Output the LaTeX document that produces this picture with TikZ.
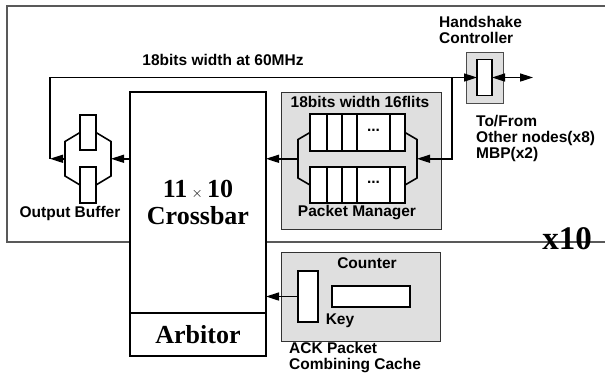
\documentclass[tikz,border=0pt]{standalone}
\usepackage{fontspec}
\setmainfont{Liberation Serif}
\setsansfont{Liberation Sans}
\usepackage{tikz}
\usetikzlibrary{arrows.meta, positioning, calc}

\begin{document}
\begin{tikzpicture}[
  x=1pt, y=-1pt,
  font=\sffamily\bfseries\fontsize{15.5}{16}\selectfont,
  >={Triangle[length=13pt, width=8pt]},
  node distance=0pt,
  frame/.style={draw=black!65, line width=1.1pt},
  bigbox/.style={draw, line width=1.8pt, fill=white, inner sep=0pt, outer sep=0pt, align=center, font=\rmfamily\bfseries\fontsize{26}{27}\selectfont},
  grey/.style={draw=black!80, line width=1pt, fill=gray!25, inner sep=0pt, outer sep=0pt},
  cell/.style={draw, line width=1.6pt, fill=white, inner sep=0pt, outer sep=0pt, minimum width=15pt, minimum height=37pt},
  slot/.style={draw, line width=1.6pt, fill=white, inner sep=0pt, outer sep=0pt},
  wire/.style={line width=1.6pt},
  arrow/.style={->, line width=1.6pt},
  lbl/.style={inner sep=0pt, align=left}
]
\useasboundingbox (0,0) rectangle (605,376);

% outer frame, one of ten copies
\draw[frame] (605,6) -- (7,6) -- (7,242) -- (605,242);
\node[inner sep=0pt, font=\rmfamily\bfseries\fontsize{33}{33}\selectfont] (copies) at (567,238.5) {x10};

% crossbar and arbitor
\node[bigbox, minimum width=136pt, minimum height=221pt] (xbar) at (198,202.5) {11\,{\fontsize{14}{14}\selectfont$\times$}\,10\\Crossbar};
\node[bigbox, minimum width=136pt, minimum height=43pt, below=of xbar] (arb) {Arbitor};

% output buffer
\node[slot, minimum width=16pt, minimum height=35pt] (obtop) at (88,132.5) {};
\node[slot, minimum width=16pt, minimum height=36pt] (obbot) at (88,185) {};
\draw[wire] (obtop.west) -- ++(-15,9) -- ($(obbot.west)+(-15,-9)$) -- (obbot.west);
\draw[wire] (obtop.east) -- ++(15,9) -- ($(obbot.east)+(15,-9)$) -- (obbot.east);
\coordinate (obL) at ($(obtop.west)!0.5!(obbot.west)+(-15,0)$);
\coordinate (obR) at ($(obtop.east)!0.5!(obbot.east)+(15,0)$);
\node[lbl] (oblabel) at (70,213) {Output Buffer};

% handshake controller
\node[grey, draw=black!70, minimum width=37pt, minimum height=51pt] (hsk) at (484.5,77.5) {};
\node[slot, minimum width=15pt, minimum height=36pt] (hskin) at (hsk.center) {};
\node[lbl, anchor=west] (hsklabel) at (439,29.5) {Handshake\\Controller};
\node[lbl, anchor=west] (nodes) at (476,138) {To/From\\Other nodes(x8)\\MBP(x2)};
\coordinate (ext) at (533,77.5);
\path (hskin.west) -- ++(-25,0) coordinate (jn);

% packet manager
\node[grey, minimum width=160pt, minimum height=137pt] (pm) at (361,160.5) {};
\node[lbl] (pmtitle) at (360,102) {18bits width 16flits};
\node[cell, minimum width=17pt] (qa1) at (318.5,132.5) {};
\node[cell, right=of qa1] (qa2) {};
\node[cell, right=of qa2] (qa3) {};
\node[cell, minimum width=33pt, right=of qa3] (qa4) {\raisebox{5pt}{...}};
\node[cell, right=of qa4] (qa5) {};
\node[cell, minimum width=17pt, minimum height=36pt] (qb1) at (318.5,185) {};
\node[cell, minimum height=36pt, right=of qb1] (qb2) {};
\node[cell, minimum height=36pt, right=of qb2] (qb3) {};
\node[cell, minimum width=33pt, minimum height=36pt, right=of qb3] (qb4) {\raisebox{5pt}{...}};
\node[cell, minimum height=36pt, right=of qb4] (qb5) {};
\draw[wire] (qa1.west) -- ++(-12,7) -- ($(qb1.west)+(-12,-7)$) -- (qb1.west);
\draw[wire] (qa5.east) -- ++(12,7) -- ($(qb5.east)+(12,-7)$) -- (qb5.east);
\coordinate (pmL) at ($(qa1.west)!0.5!(qb1.west)+(-12,0)$);
\coordinate (pmR) at ($(qa5.east)!0.5!(qb5.east)+(12,0)$);
\node[lbl] (pmlabel) at (357,213) {Packet Manager};

% ack packet combining cache
\node[grey, minimum width=159pt, minimum height=89pt] (ack) at (360.5,296.5) {};
\node[slot, minimum width=20pt, minimum height=51pt] (key) at (308,296.5) {};
\node[slot, minimum width=78pt, minimum height=21pt] (counter) at (371,296.5) {};
\node[lbl] (counterlabel) at (367,263) {Counter};
\node[lbl] (keylabel) at (340,321) {Key};
\node[lbl, anchor=west] (acklabel) at (289,358) {ACK Packet\\Combining Cache};

% links
\node[lbl] (buswidth) at (223,60) {18bits width at 60MHz};
\coordinate (wireL) at ($(obL)+(-15,0)$);
\draw[arrow] (xbar.west |- obR) -- (obR);
\draw[arrow] (obL) -- (wireL);
\draw[arrow] (wireL) |- (hskin.west);
\draw[arrow] (jn) |- (pmR);
\draw[arrow] (pmL) -- (pmL -| xbar.east);
\draw[arrow] (key.west) -- (key.west -| xbar.east);
\draw[arrow, <->] (hskin.east) -- (ext);
\end{tikzpicture}
\end{document}
